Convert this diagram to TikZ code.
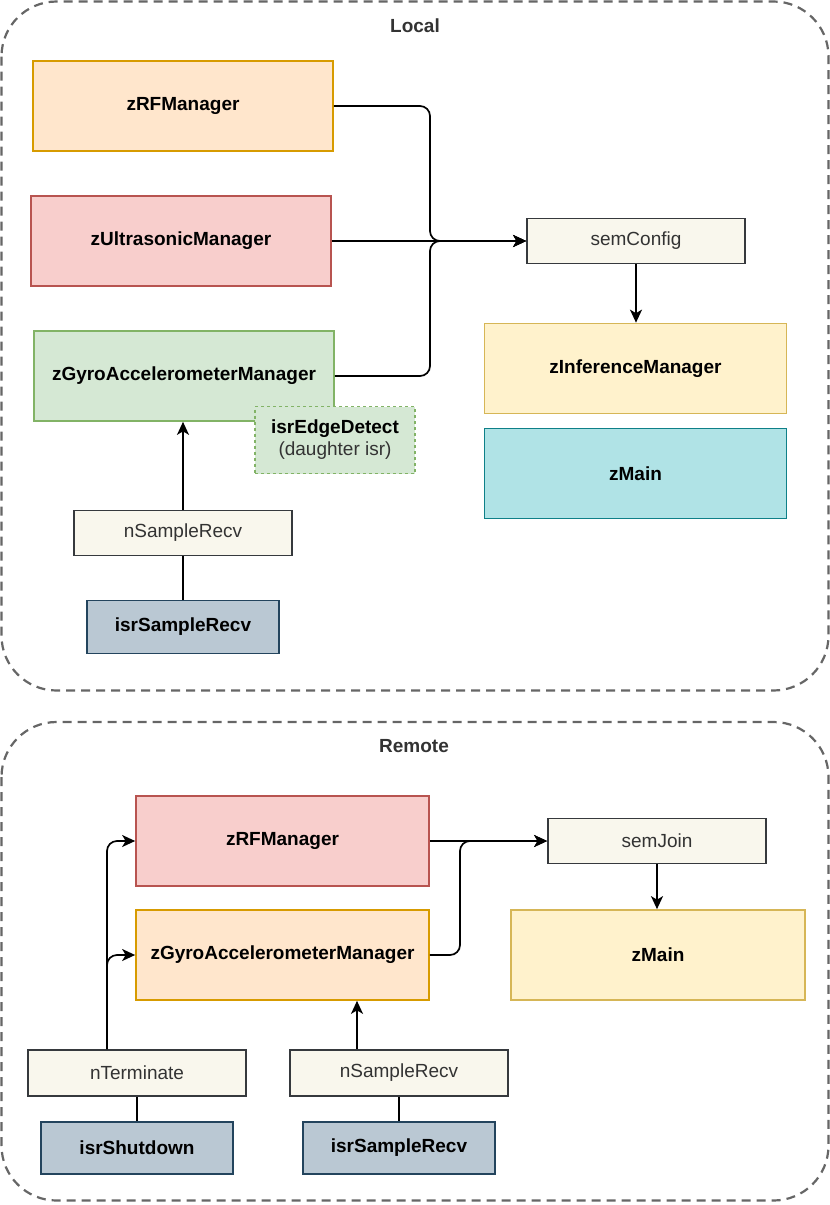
\documentclass[tikz,border=0pt]{standalone}
\usepackage{fontspec}
\setmainfont{Liberation Sans}
\usetikzlibrary{arrows.meta}
\definecolor{orangeF}{HTML}{FFE6CC}\definecolor{orangeD}{HTML}{D79B00}
\definecolor{redF}{HTML}{F8CECC}\definecolor{redD}{HTML}{B85450}
\definecolor{greenF}{HTML}{D5E8D4}\definecolor{greenD}{HTML}{82B366}
\definecolor{yellowF}{HTML}{FFF2CC}\definecolor{yellowD}{HTML}{D6B656}
\definecolor{tealF}{HTML}{B0E3E6}\definecolor{tealD}{HTML}{0E8088}
\definecolor{slateF}{HTML}{BAC8D3}\definecolor{slateD}{HTML}{23445D}
\definecolor{paperF}{HTML}{F9F7ED}\definecolor{paperD}{HTML}{36393D}
\definecolor{groupD}{HTML}{666666}\definecolor{txt}{HTML}{333333}
\tikzset{
  task/.style={shape=rectangle,draw=#1D,fill=#1F,line width=1.7pt,inner sep=0pt,
    minimum width=300pt,minimum height=90pt,font=\fontsize{19}{22}\selectfont\bfseries},
  isrbox/.style={task=slate,minimum width=192pt,minimum height=53pt},
  kobj/.style={shape=rectangle,draw=paperD,fill=paperF,line width=1.8pt,inner sep=0pt,
    minimum width=218pt,minimum height=45pt,text=txt,font=\fontsize{19}{22}\selectfont},
  group/.style={draw=groupD,line width=2.2pt,dash pattern=on 9pt off 6pt,rounded corners=55pt},
  grouplabel/.style={text=txt,font=\fontsize{19}{22}\selectfont\bfseries},
  link/.style={draw=black,line width=1.7pt,rounded corners=10pt},
  arr/.style={link,-{Stealth[length=13pt,width=12pt,inset=3.5pt]}}
}
\begin{document}
\begin{tikzpicture}[x=1pt,y=-1pt]
\useasboundingbox (0,0) rectangle (830,1205);
% Local
\draw[group] (1.5,1.5) rectangle (828.5,690.5);
\node[grouplabel] (local) at (415,26) {Local};
\node[task=orange] (rfL) at (183,106) {zRFManager};
\node[task=red] (usL) at (181,241) {zUltrasonicManager};
\node[task=green] (gyroL) at (184,376) {zGyroAccelerometerManager};
\node[task=green,dashed,minimum width=160pt,minimum height=67pt,align=center]
  (edgeL) at (335,440) {isrEdgeDetect\\\mdseries\color{txt}(daughter isr)};
\node[kobj] (sampL) at (183,533) {nSampleRecv};
\node[isrbox] (isrSampL) at (183,627) {isrSampleRecv};
\node[kobj] (semCfg) at (636,241) {semConfig};
\node[task=yellow,minimum width=302pt] (infL) at (635.5,368.5) {zInferenceManager};
\node[task=teal,minimum width=302pt] (mainL) at (635.5,473.5) {zMain};
\coordinate (busL) at (430,241);
\draw[arr] (rfL.east) -| (busL) -- (semCfg.west);
\draw[arr] (usL.east |- semCfg.west) -- (semCfg.west);
\draw[arr] (gyroL.east) -| (busL) -- (semCfg.west);
\draw[arr] (semCfg.south) -- (semCfg.south |- infL.north);
\draw[arr] (sampL.north) -- (sampL.north |- gyroL.south);
\draw[link] (sampL.south) -- (isrSampL.north);
% Remote
\draw[group] (1.5,722) rectangle (828.5,1200.5);
\node[grouplabel] (remote) at (414,746) {Remote};
\node[task=red,minimum width=293pt] (rfR) at (282.5,841) {zRFManager};
\node[task=orange,minimum width=293pt] (gyroR) at (282.5,955) {zGyroAccelerometerManager};
\node[kobj] (semJoin) at (657,841) {semJoin};
\node[task=yellow,minimum width=294pt] (mainR) at (658,955) {zMain};
\node[kobj,minimum height=46pt] (termR) at (137,1073) {nTerminate};
\node[kobj,minimum height=46pt] (sampR) at (399,1073) {nSampleRecv};
\node[isrbox,minimum height=52pt] (isrShut) at (137,1148) {isrShutdown};
\node[isrbox,minimum height=52pt] (isrSampR) at (399,1148) {isrSampleRecv};
\coordinate (busR) at (460,841);
\draw[arr] ([xshift=-30pt]termR.north) |- (rfR.west);
\draw[arr] ([xshift=-30pt]termR.north) |- (gyroR.west);
\draw[arr] (rfR.east) -- (rfR.east -| semJoin.west);
\draw[arr] (gyroR.east) -| (busR) -- (rfR.east -| semJoin.west);
\draw[arr] (semJoin.south) -- (semJoin.south |- mainR.north);
\draw[arr] ([xshift=-42pt]sampR.north) -- ([xshift=-42pt]sampR.north |- gyroR.south);
\draw[link] (termR.south) -- (termR.south |- isrShut.north);
\draw[link] (sampR.south) -- (isrSampR.north);
\end{tikzpicture}
\end{document}
